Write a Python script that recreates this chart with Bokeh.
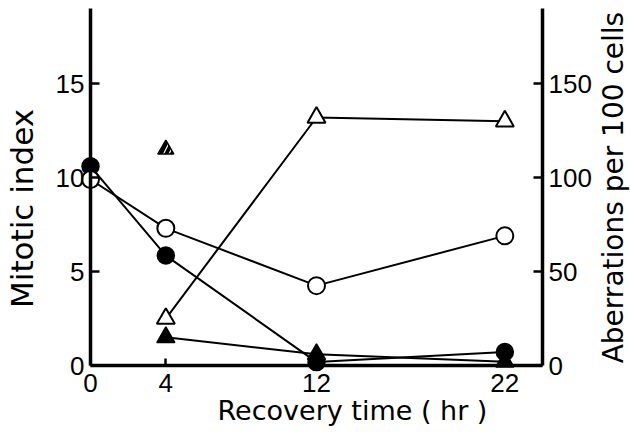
from bokeh.plotting import figure
from bokeh.models import Range1d, LinearAxis, FixedTicker, Label
from bokeh.embed import file_html
from bokeh.resources import INLINE

# ---- data ----
time_circles = [0, 4, 12, 22]
mitotic_open = [9.9, 7.3, 4.25, 6.9]        # open circles (left axis)
mitotic_filled = [10.6, 5.85, 0.18, 0.72]   # filled circles (left axis)
time_triangles = [4, 12, 22]
aberr_open = [25, 132, 130]                  # open triangles (right axis)
aberr_filled = [15, 6, 2]                    # filled triangles (right axis)
time_hatched = [4]
aberr_hatched = [115]                        # hatched triangle (right axis)

x_ticks = [0, 4, 12, 22]
left_ticks = [0, 5, 10, 15]
right_ticks = [0, 50, 100, 150]

x_label = "Recovery time ( hr )"
left_label = "Mitotic index"
right_label = "Aberrations per 100 cells"

TICK_FONT = "Liberation Sans"
LABEL_FONT = "DejaVu Sans"

W, H = 631, 434
# axes span: x 0..24, left y 0..19, right y 0..190
X_MAX, Y_MAX = 24, 19
FL, FR, FT, FB = 90, 542, 8, 365          # axis positions in pixels
sx = (FR - FL) / X_MAX
sy = (FB - FT) / Y_MAX
x_range = Range1d(-FL / sx, X_MAX + (W - FR) / sx)
y_range = Range1d(-(H - FB) / sy, Y_MAX + FT / sy)

p = figure(width=W, height=H, output_backend="svg", toolbar_location=None,
           x_range=x_range, y_range=y_range,
           min_border_left=0, min_border_right=0, min_border_top=0,
           min_border_bottom=0, x_axis_location=None, y_axis_location=None)
p.extra_y_ranges = {"ab": Range1d(y_range.start * 10, y_range.end * 10)}
p.outline_line_color = None
p.grid.visible = False
p.background_fill_color = "white"
p.border_fill_color = "white"

bottom_axis = LinearAxis(fixed_location=0, bounds=(0, X_MAX))
left_axis = LinearAxis(fixed_location=0, bounds=(0, Y_MAX))
right_axis = LinearAxis(y_range_name="ab", fixed_location=X_MAX, bounds=(0, Y_MAX * 10))
p.add_layout(bottom_axis, "below")
p.add_layout(left_axis, "left")
p.add_layout(right_axis, "right")

for ax in [bottom_axis, left_axis, right_axis]:
    ax.axis_line_width = 3.5
    ax.axis_line_color = "black"
    ax.major_tick_in = 9
    ax.major_tick_out = 0
    ax.major_tick_line_width = 2.5
    ax.major_tick_line_color = "black"
    ax.minor_tick_line_color = None
    ax.major_label_text_font = TICK_FONT
    ax.major_label_text_font_size = "26px"
    ax.major_label_text_color = "black"

bottom_axis.ticker = FixedTicker(ticks=x_ticks)
bottom_axis.major_label_standoff = 8
bottom_axis.major_tick_in = 7
left_axis.ticker = FixedTicker(ticks=left_ticks)
left_axis.major_label_standoff = 6
right_axis.ticker = FixedTicker(ticks=right_ticks)
right_axis.major_label_standoff = 6

# lines
p.line(time_circles, mitotic_open, line_color="black", line_width=2)
p.line(time_circles, mitotic_filled, line_color="black", line_width=2)
p.line(time_triangles, aberr_open, line_color="black", line_width=2, y_range_name="ab")
p.line(time_triangles, aberr_filled, line_color="black", line_width=2, y_range_name="ab")

# markers
p.scatter(time_triangles, aberr_filled, marker="triangle", size=18, fill_color="black",
          line_color="black", line_width=1.5, y_range_name="ab")
p.scatter(time_circles, mitotic_filled, marker="circle", size=17, fill_color="black",
          line_color="black", line_width=1.5)
p.scatter(time_circles, mitotic_open, marker="circle", size=17, fill_color="white",
          line_color="black", line_width=2)
p.scatter(time_triangles, aberr_open, marker="triangle", size=18, fill_color="white",
          line_color="black", line_width=2, y_range_name="ab")
p.scatter(time_hatched, aberr_hatched, marker="triangle", size=16, fill_color="black",
          line_color="black", line_width=1.5, hatch_pattern="/", hatch_color="white",
          hatch_scale=11, hatch_weight=1.2, y_range_name="ab")

# axis titles
p.add_layout(Label(x=13.91, y=-2.40, text=x_label, text_font=LABEL_FONT,
                   text_font_size="27px", text_align="center",
                   text_baseline="alphabetic", text_color="black"))
p.add_layout(Label(x=-3.64, y=8.36, text=left_label, text_font=LABEL_FONT,
                   text_font_size="31px", text_align="center", angle=1.5708,
                   text_baseline="alphabetic", text_color="black"))
p.add_layout(Label(x=27.77, y=9.47, text=right_label, text_font=LABEL_FONT,
                   text_font_size="28px", text_align="center", angle=1.5708,
                   text_baseline="alphabetic", text_color="black"))

open("out.html", "w").write(file_html(p, INLINE))
